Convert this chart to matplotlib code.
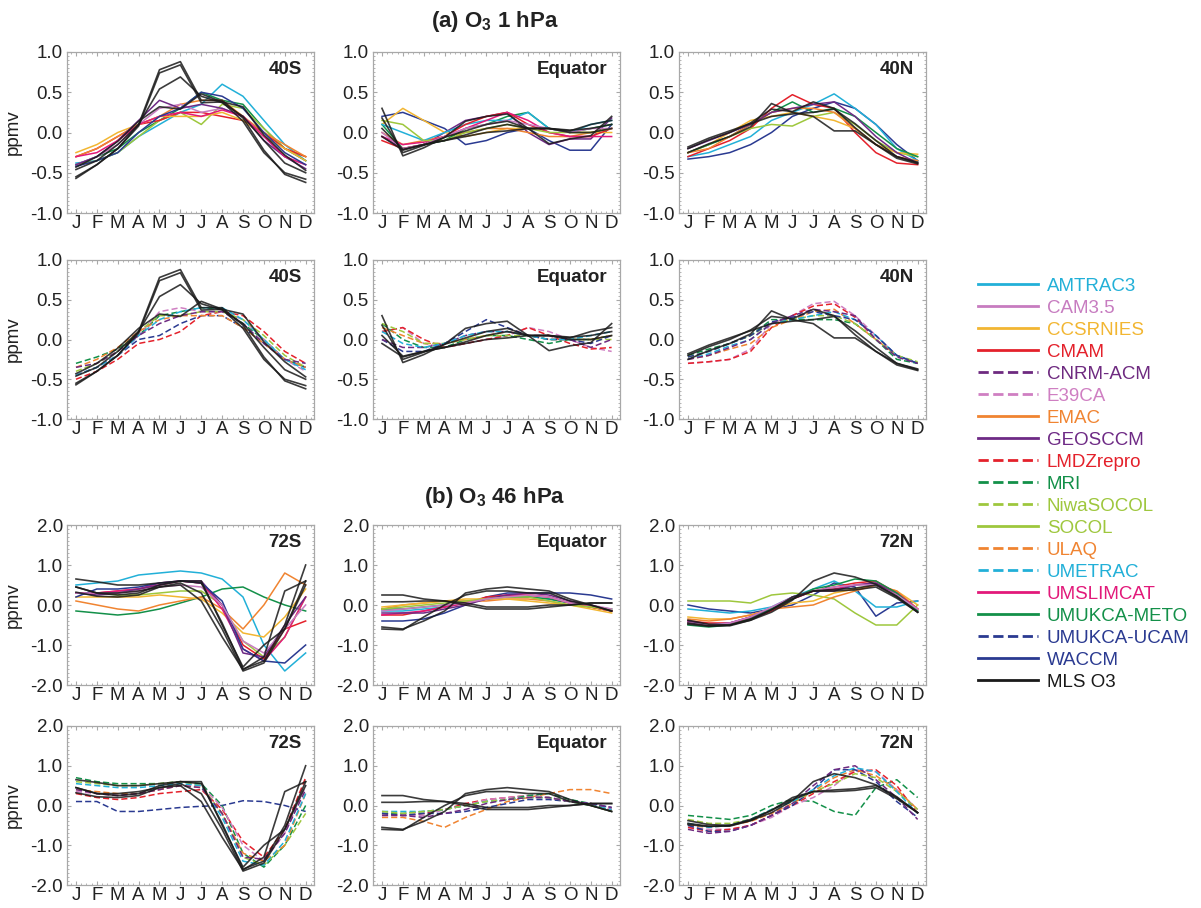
import numpy as np
import matplotlib
matplotlib.use('Agg')
import matplotlib.pyplot as plt
from matplotlib.ticker import MultipleLocator
from matplotlib.lines import Line2D

plt.rcParams['font.family'] = ['Liberation Sans', 'DejaVu Sans']
plt.rcParams['mathtext.fontset'] = 'custom'
plt.rcParams['mathtext.bf'] = 'Liberation Sans:bold'
plt.rcParams['mathtext.rm'] = 'Liberation Sans'

months = ['J', 'F', 'M', 'A', 'M', 'J', 'J', 'A', 'S', 'O', 'N', 'D']

# couleurs / styles des modeles (ordre de la legende)
styles = {
    'AMTRAC3': ('#22b0d8', '-'),
    'CAM3.5': ('#c77cc0', '-'),
    'CCSRNIES': ('#f2b632', '-'),
    'CMAM': ('#e4212b', '-'),
    'CNRM-ACM': ('#6e2a80', '--'),
    'E39CA': ('#cf7fc2', '--'),
    'EMAC': ('#f08431', '-'),
    'GEOSCCM': ('#6e2a85', '-'),
    'LMDZrepro': ('#e4212b', '--'),
    'MRI': ('#139049', '--'),
    'NiwaSOCOL': ('#9ec73d', '--'),
    'SOCOL': ('#9ec73d', '-'),
    'ULAQ': ('#f08431', '--'),
    'UMETRAC': ('#22b0d8', '--'),
    'UMSLIMCAT': ('#e2197a', '-'),
    'UMUKCA-METO': ('#139049', '-'),
    'UMUKCA-UCAM': ('#2a3a91', '--'),
    'WACCM': ('#2a3a91', '-'),
    'MLS O3': ('#1a1a1a', '-'),
}

# ---- MLS (plusieurs annees) ----
mls_1hpa_40s = [
    [-0.57, -0.40, -0.20, 0.10, 0.78, 0.88, 0.40, 0.40, 0.18, -0.22, -0.52, -0.62],
    [-0.55, -0.40, -0.20, 0.08, 0.74, 0.84, 0.37, 0.38, 0.14, -0.25, -0.50, -0.58],
    [-0.46, -0.35, -0.15, 0.10, 0.54, 0.69, 0.45, 0.37, 0.20, -0.10, -0.38, -0.50],
    [-0.43, -0.30, -0.11, 0.14, 0.32, 0.29, 0.48, 0.38, 0.32, -0.03, -0.28, -0.47],
]
mls_1hpa_eq = [
    [0.30, -0.29, -0.19, -0.06, 0.14, 0.20, 0.23, 0.05, -0.14, -0.08, -0.04, 0.20],
    [0.18, -0.25, -0.16, -0.06, 0.02, 0.10, 0.14, 0.05, 0.05, 0.02, 0.10, 0.15],
    [0.05, -0.21, -0.15, -0.10, -0.03, 0.05, 0.10, 0.05, 0.05, 0.03, 0.05, 0.10],
    [-0.05, -0.22, -0.15, -0.10, -0.05, 0.00, 0.02, 0.05, 0.05, 0.00, 0.00, 0.05],
]
mls_1hpa_40n = [
    [-0.25, -0.14, -0.05, 0.07, 0.36, 0.25, 0.20, 0.02, 0.02, -0.15, -0.32, -0.39],
    [-0.20, -0.09, 0.00, 0.12, 0.29, 0.26, 0.38, 0.30, 0.06, -0.15, -0.30, -0.38],
    [-0.18, -0.07, 0.02, 0.11, 0.20, 0.23, 0.25, 0.29, 0.11, -0.10, -0.30, -0.37],
]
mls_46hpa_72s = [
    [0.65, 0.58, 0.50, 0.50, 0.55, 0.60, 0.60, -0.50, -1.55, -1.00, -0.60, 0.60],
    [0.45, 0.30, 0.25, 0.30, 0.50, 0.60, 0.55, -0.45, -1.60, -1.40, -0.50, 1.00],
    [0.32, 0.22, 0.20, 0.25, 0.45, 0.55, 0.30, -0.60, -1.65, -1.45, -0.60, 0.50],
    [0.45, 0.30, 0.30, 0.35, 0.45, 0.50, 0.10, -0.80, -1.62, -1.30, 0.35, 0.60],
]
mls_46hpa_eq = [
    [0.25, 0.25, 0.15, 0.10, 0.00, -0.10, -0.10, -0.10, -0.05, 0.00, 0.05, 0.05],
    [0.08, 0.08, 0.10, 0.10, 0.05, -0.05, -0.05, -0.05, 0.00, 0.00, 0.05, 0.05],
    [-0.55, -0.60, -0.40, -0.15, 0.30, 0.40, 0.45, 0.40, 0.35, 0.15, 0.00, -0.15],
    [-0.60, -0.62, -0.30, 0.00, 0.25, 0.35, 0.35, 0.30, 0.30, 0.10, 0.00, -0.15],
]
mls_46hpa_72n = [
    [-0.38, -0.48, -0.50, -0.38, -0.18, 0.12, 0.60, 0.80, 0.70, 0.52, 0.22, -0.18],
    [-0.45, -0.52, -0.52, -0.38, -0.12, 0.20, 0.35, 0.39, 0.42, 0.50, 0.20, -0.18],
    [-0.48, -0.53, -0.50, -0.35, -0.12, 0.15, 0.35, 0.35, 0.38, 0.45, 0.17, -0.18],
]

# ---- 1 hPa, modeles traits pleins ----
solid_1hpa_40s = {
    'AMTRAC3': [-0.38, -0.35, -0.25, -0.05, 0.10, 0.25, 0.35, 0.60, 0.45, 0.15, -0.15, -0.35],
    'UMUKCA-METO': [-0.40, -0.30, -0.20, 0.00, 0.15, 0.30, 0.50, 0.40, 0.35, 0.05, -0.20, -0.35],
    'SOCOL': [-0.40, -0.35, -0.25, -0.05, 0.15, 0.25, 0.10, 0.35, 0.30, 0.05, -0.20, -0.30],
    'CMAM': [-0.30, -0.20, -0.05, 0.10, 0.15, 0.25, 0.25, 0.20, 0.15, 0.00, -0.20, -0.30],
    'EMAC': [-0.30, -0.20, -0.05, 0.10, 0.20, 0.35, 0.40, 0.40, 0.20, 0.00, -0.15, -0.30],
    'CCSRNIES': [-0.25, -0.15, 0.00, 0.10, 0.20, 0.20, 0.20, 0.25, 0.15, -0.05, -0.20, -0.35],
    'CAM3.5': [-0.40, -0.30, -0.15, 0.10, 0.30, 0.35, 0.25, 0.30, 0.20, -0.05, -0.30, -0.40],
    'GEOSCCM': [-0.40, -0.30, -0.10, 0.15, 0.40, 0.30, 0.35, 0.30, 0.20, -0.10, -0.30, -0.45],
    'UMSLIMCAT': [-0.30, -0.25, -0.10, 0.10, 0.20, 0.25, 0.20, 0.28, 0.20, -0.05, -0.30, -0.40],
    'WACCM': [-0.42, -0.35, -0.25, 0.00, 0.20, 0.30, 0.50, 0.45, 0.30, 0.00, -0.25, -0.40],
}
solid_1hpa_eq = {
    'WACCM': [0.20, 0.25, 0.15, 0.05, -0.15, -0.10, 0.00, 0.05, -0.10, -0.22, -0.22, 0.10],
    'GEOSCCM': [-0.05, -0.20, -0.15, 0.00, 0.15, 0.20, 0.25, 0.00, -0.15, -0.08, -0.08, 0.18],
    'CCSRNIES': [0.10, 0.30, 0.15, 0.00, -0.05, 0.00, 0.05, 0.05, 0.05, 0.00, 0.00, 0.00],
    'EMAC': [0.00, -0.15, -0.10, -0.05, 0.00, 0.05, 0.05, 0.00, -0.05, -0.05, 0.00, 0.05],
    'UMUKCA-METO': [0.10, -0.20, -0.15, -0.10, 0.05, 0.10, 0.20, 0.25, 0.05, 0.00, 0.05, 0.10],
    'AMTRAC3': [0.10, 0.00, -0.10, 0.00, 0.10, 0.15, 0.15, 0.25, 0.05, 0.00, 0.10, 0.15],
    'CMAM': [-0.10, -0.20, -0.15, -0.05, 0.10, 0.20, 0.25, 0.10, 0.00, -0.05, -0.05, 0.05],
    'UMSLIMCAT': [-0.05, -0.15, -0.12, -0.05, 0.05, 0.15, 0.25, 0.15, 0.00, -0.05, -0.05, -0.05],
    'SOCOL': [0.15, 0.10, -0.10, -0.10, 0.00, 0.05, 0.10, 0.05, 0.00, 0.00, 0.00, 0.05],
    'CAM3.5': [0.00, -0.20, -0.15, -0.05, 0.05, 0.10, 0.15, 0.10, 0.05, 0.00, 0.05, 0.05],
}
solid_1hpa_40n = {
    'WACCM': [-0.33, -0.30, -0.25, -0.15, 0.00, 0.20, 0.30, 0.38, 0.30, 0.10, -0.15, -0.35],
    'AMTRAC3': [-0.30, -0.25, -0.15, -0.05, 0.15, 0.25, 0.35, 0.48, 0.30, 0.10, -0.20, -0.35],
    'CMAM': [-0.30, -0.20, -0.10, 0.05, 0.30, 0.47, 0.35, 0.30, 0.00, -0.25, -0.38, -0.40],
    'SOCOL': [-0.25, -0.15, -0.05, 0.05, 0.10, 0.08, 0.20, 0.25, 0.10, -0.10, -0.25, -0.30],
    'CCSRNIES': [-0.25, -0.15, 0.00, 0.15, 0.20, 0.25, 0.20, 0.15, 0.05, -0.15, -0.25, -0.27],
    'UMUKCA-METO': [-0.25, -0.15, -0.05, 0.10, 0.25, 0.38, 0.25, 0.30, 0.20, 0.00, -0.20, -0.30],
    'EMAC': [-0.25, -0.20, -0.05, 0.10, 0.25, 0.30, 0.30, 0.25, 0.05, -0.15, -0.30, -0.35],
    'GEOSCCM': [-0.20, -0.10, 0.00, 0.10, 0.25, 0.30, 0.35, 0.38, 0.20, -0.05, -0.25, -0.38],
}

# ---- 1 hPa, modeles tirets ----
dash_1hpa_40s = {
    'MRI': [-0.30, -0.22, -0.12, 0.05, 0.30, 0.35, 0.40, 0.38, 0.20, 0.00, -0.25, -0.35],
    'LMDZrepro': [-0.50, -0.40, -0.25, -0.05, 0.00, 0.10, 0.30, 0.35, 0.30, 0.10, -0.15, -0.30],
    'UMUKCA-UCAM': [-0.45, -0.35, -0.20, 0.00, 0.05, 0.20, 0.30, 0.30, 0.15, -0.05, -0.25, -0.35],
    'E39CA': [-0.45, -0.35, -0.20, 0.05, 0.35, 0.40, 0.35, 0.35, 0.25, 0.00, -0.25, -0.40],
    'NiwaSOCOL': [-0.40, -0.30, -0.15, 0.10, 0.30, 0.30, 0.35, 0.35, 0.25, 0.05, -0.20, -0.35],
    'ULAQ': [-0.35, -0.25, -0.10, 0.10, 0.25, 0.30, 0.30, 0.30, 0.15, -0.05, -0.25, -0.35],
    'UMETRAC': [-0.45, -0.35, -0.20, 0.05, 0.25, 0.35, 0.40, 0.40, 0.25, 0.00, -0.25, -0.38],
    'CNRM-ACM': [-0.35, -0.30, -0.15, 0.05, 0.20, 0.30, 0.35, 0.35, 0.20, -0.05, -0.25, -0.30],
}
dash_1hpa_eq = {
    'E39CA': [0.10, 0.15, -0.05, -0.10, -0.05, 0.00, 0.05, 0.15, 0.10, 0.00, -0.10, -0.15],
    'LMDZrepro': [0.10, 0.15, 0.00, -0.10, -0.05, 0.00, 0.05, 0.15, 0.05, -0.05, -0.12, -0.10],
    'MRI': [0.20, 0.00, -0.10, -0.10, 0.00, 0.05, 0.05, 0.00, -0.05, 0.00, 0.00, 0.05],
    'ULAQ': [0.15, 0.05, -0.05, -0.05, 0.00, 0.05, 0.10, 0.05, 0.00, 0.00, 0.00, 0.05],
    'NiwaSOCOL': [0.20, 0.10, -0.05, -0.05, 0.00, 0.05, 0.05, 0.05, 0.00, 0.00, 0.00, 0.00],
    'UMUKCA-UCAM': [0.00, -0.15, -0.15, -0.05, 0.10, 0.25, 0.15, 0.05, 0.00, 0.00, -0.05, 0.05],
    'CNRM-ACM': [0.00, -0.10, -0.10, -0.05, 0.05, 0.10, 0.10, 0.05, 0.05, 0.00, -0.10, 0.00],
    'UMETRAC': [0.10, -0.05, -0.10, -0.05, 0.05, 0.10, 0.10, 0.05, 0.00, 0.00, 0.05, 0.10],
}
dash_1hpa_40n = {
    'E39CA': [-0.30, -0.28, -0.25, -0.12, 0.20, 0.30, 0.45, 0.48, 0.30, 0.05, -0.20, -0.30],
    'LMDZrepro': [-0.30, -0.28, -0.25, -0.15, 0.15, 0.30, 0.42, 0.45, 0.28, 0.00, -0.20, -0.30],
    'ULAQ': [-0.25, -0.20, -0.12, -0.05, 0.15, 0.25, 0.35, 0.38, 0.20, 0.00, -0.20, -0.30],
    'MRI': [-0.20, -0.12, -0.05, 0.05, 0.25, 0.25, 0.25, 0.25, 0.20, 0.00, -0.25, -0.30],
    'NiwaSOCOL': [-0.22, -0.15, -0.05, 0.05, 0.20, 0.25, 0.30, 0.30, 0.20, 0.00, -0.20, -0.28],
    'UMETRAC': [-0.25, -0.18, -0.08, 0.00, 0.20, 0.25, 0.30, 0.35, 0.25, 0.05, -0.20, -0.30],
    'UMUKCA-UCAM': [-0.22, -0.15, -0.05, 0.05, 0.22, 0.28, 0.35, 0.30, 0.25, 0.05, -0.20, -0.30],
    'CNRM-ACM': [-0.25, -0.20, -0.10, 0.00, 0.20, 0.30, 0.38, 0.35, 0.30, 0.00, -0.22, -0.30],
}

# ---- 46 hPa, modeles traits pleins ----
solid_46hpa_72s = {
    'AMTRAC3': [0.50, 0.55, 0.60, 0.75, 0.80, 0.85, 0.80, 0.65, 0.20, -1.00, -1.65, -1.20],
    'UMUKCA-METO': [-0.15, -0.20, -0.25, -0.20, -0.10, 0.05, 0.20, 0.40, 0.45, 0.20, 0.00, -0.15],
    'EMAC': [0.10, 0.00, -0.10, -0.15, 0.00, 0.10, 0.20, -0.10, -0.60, 0.00, 0.80, 0.50],
    'CCSRNIES': [0.20, 0.20, 0.20, 0.20, 0.25, 0.20, 0.15, -0.20, -0.70, -0.80, -0.30, 0.40],
    'SOCOL': [0.30, 0.30, 0.25, 0.25, 0.30, 0.35, 0.35, 0.00, -0.90, -1.30, -0.80, 0.20],
    'CMAM': [0.30, 0.30, 0.35, 0.40, 0.50, 0.60, 0.55, 0.00, -1.00, -1.35, -0.60, -0.40],
    'UMSLIMCAT': [0.30, 0.30, 0.35, 0.40, 0.55, 0.60, 0.55, -0.10, -1.10, -1.40, -0.80, 0.20],
    'GEOSCCM': [0.30, 0.25, 0.30, 0.40, 0.50, 0.60, 0.60, 0.00, -1.20, -1.30, -0.50, 0.20],
    'WACCM': [0.20, 0.40, 0.40, 0.45, 0.55, 0.60, 0.55, 0.10, -1.10, -1.40, -1.45, -1.00],
    'CAM3.5': [0.30, 0.30, 0.30, 0.35, 0.45, 0.50, 0.45, 0.00, -0.90, -1.20, -0.60, 0.00],
}
solid_46hpa_eq = {
    'WACCM': [-0.40, -0.40, -0.35, -0.20, 0.00, 0.20, 0.30, 0.30, 0.30, 0.30, 0.25, 0.15],
    'AMTRAC3': [-0.15, -0.15, -0.10, -0.05, 0.05, 0.15, 0.20, 0.20, 0.15, 0.05, -0.05, -0.10],
    'UMUKCA-METO': [-0.10, -0.10, -0.05, 0.00, 0.05, 0.15, 0.20, 0.20, 0.15, 0.05, -0.05, -0.15],
    'CMAM': [-0.25, -0.25, -0.15, -0.05, 0.05, 0.20, 0.25, 0.25, 0.20, 0.05, -0.05, -0.15],
    'UMSLIMCAT': [-0.25, -0.20, -0.15, -0.05, 0.05, 0.15, 0.25, 0.25, 0.20, 0.05, -0.05, -0.15],
    'EMAC': [-0.10, 0.00, 0.05, 0.10, 0.10, 0.10, 0.15, 0.15, 0.10, 0.00, -0.05, -0.15],
    'CCSRNIES': [-0.05, 0.00, 0.05, 0.10, 0.15, 0.15, 0.15, 0.10, 0.05, 0.00, -0.10, -0.20],
    'GEOSCCM': [-0.20, -0.20, -0.20, -0.10, 0.00, 0.15, 0.25, 0.30, 0.25, 0.10, 0.00, -0.15],
    'SOCOL': [-0.10, -0.05, 0.00, 0.05, 0.10, 0.15, 0.20, 0.20, 0.10, 0.00, -0.05, -0.10],
    'CAM3.5': [-0.15, -0.10, -0.05, 0.00, 0.05, 0.15, 0.20, 0.25, 0.20, 0.05, 0.00, -0.10],
}
solid_46hpa_72n = {
    'WACCM': [0.00, -0.10, -0.15, -0.20, -0.10, 0.00, 0.25, 0.55, 0.45, -0.28, 0.05, 0.10],
    'AMTRAC3': [-0.10, -0.15, -0.20, -0.15, -0.05, 0.20, 0.40, 0.60, 0.35, -0.05, -0.05, 0.10],
    'SOCOL': [0.10, 0.10, 0.10, 0.05, 0.25, 0.30, 0.25, 0.15, -0.20, -0.50, -0.50, 0.00],
    'CCSRNIES': [-0.30, -0.35, -0.35, -0.25, -0.10, 0.05, 0.10, 0.30, 0.40, 0.50, 0.35, 0.00],
    'EMAC': [-0.35, -0.40, -0.35, -0.25, -0.10, -0.05, 0.00, 0.20, 0.35, 0.50, 0.35, -0.10],
    'CMAM': [-0.40, -0.45, -0.45, -0.35, -0.15, 0.15, 0.35, 0.45, 0.55, 0.60, 0.30, -0.10],
    'UMSLIMCAT': [-0.45, -0.50, -0.45, -0.30, -0.10, 0.15, 0.35, 0.40, 0.50, 0.55, 0.30, -0.10],
    'GEOSCCM': [-0.40, -0.50, -0.45, -0.30, -0.10, 0.20, 0.35, 0.35, 0.50, 0.55, 0.25, -0.15],
    'UMUKCA-METO': [-0.50, -0.55, -0.50, -0.35, -0.10, 0.15, 0.40, 0.50, 0.65, 0.60, 0.30, -0.15],
    'CAM3.5': [-0.45, -0.50, -0.45, -0.30, -0.05, 0.20, 0.35, 0.45, 0.50, 0.50, 0.25, -0.10],
}

# ---- 46 hPa, modeles tirets ----
dash_46hpa_72s = {
    'UMUKCA-UCAM': [0.10, 0.10, -0.15, -0.15, -0.10, -0.05, -0.02, 0.00, 0.12, 0.10, 0.00, -0.15],
    'MRI': [0.70, 0.60, 0.55, 0.55, 0.55, 0.60, 0.55, 0.00, -1.20, -1.55, -1.00, 0.00],
    'LMDZrepro': [0.30, 0.20, 0.15, 0.20, 0.30, 0.35, 0.40, -0.10, -0.90, -1.30, -0.60, 0.70],
    'E39CA': [0.35, 0.30, 0.25, 0.30, 0.40, 0.50, 0.50, -0.05, -1.00, -1.40, -0.70, 0.50],
    'NiwaSOCOL': [0.60, 0.55, 0.50, 0.50, 0.55, 0.60, 0.50, -0.20, -1.30, -1.50, -1.00, -0.20],
    'ULAQ': [0.40, 0.35, 0.30, 0.30, 0.40, 0.50, 0.45, -0.20, -1.20, -1.40, -1.00, 0.30],
    'UMETRAC': [0.55, 0.50, 0.45, 0.45, 0.50, 0.55, 0.50, -0.30, -1.40, -1.50, -0.90, 0.30],
    'CNRM-ACM': [0.40, 0.30, 0.25, 0.30, 0.40, 0.50, 0.45, -0.20, -1.30, -1.35, -0.70, 0.40],
}
dash_46hpa_eq = {
    'ULAQ': [-0.30, -0.30, -0.40, -0.55, -0.30, -0.10, 0.10, 0.20, 0.30, 0.40, 0.40, 0.30],
    'LMDZrepro': [-0.20, -0.25, -0.20, -0.10, 0.05, 0.15, 0.20, 0.25, 0.20, 0.10, 0.05, -0.10],
    'E39CA': [-0.25, -0.25, -0.25, -0.10, 0.00, 0.15, 0.20, 0.25, 0.20, 0.10, 0.05, -0.10],
    'MRI': [-0.20, -0.20, -0.15, -0.10, 0.00, 0.10, 0.15, 0.25, 0.30, 0.15, 0.05, -0.15],
    'UMETRAC': [-0.15, -0.15, -0.15, -0.10, 0.00, 0.10, 0.15, 0.20, 0.20, 0.10, 0.00, -0.10],
    'UMUKCA-UCAM': [-0.20, -0.25, -0.20, -0.20, -0.15, -0.05, 0.05, 0.15, 0.15, 0.10, 0.05, -0.05],
    'NiwaSOCOL': [-0.15, -0.20, -0.15, -0.10, 0.00, 0.10, 0.15, 0.20, 0.20, 0.10, 0.00, -0.15],
    'CNRM-ACM': [-0.25, -0.25, -0.30, -0.20, -0.10, 0.05, 0.15, 0.20, 0.20, 0.10, 0.05, -0.05],
}
dash_46hpa_72n = {
    'MRI': [-0.25, -0.30, -0.35, -0.25, 0.00, 0.15, 0.10, -0.15, -0.25, 0.45, 0.65, 0.20],
    'E39CA': [-0.55, -0.60, -0.60, -0.50, -0.30, 0.00, 0.20, 0.50, 0.90, 0.85, 0.40, -0.10],
    'LMDZrepro': [-0.55, -0.65, -0.60, -0.50, -0.25, 0.00, 0.30, 0.60, 0.85, 0.90, 0.50, -0.20],
    'ULAQ': [-0.50, -0.55, -0.50, -0.40, -0.20, 0.05, 0.35, 0.70, 0.90, 0.75, 0.40, -0.10],
    'UMUKCA-UCAM': [-0.50, -0.65, -0.65, -0.50, -0.25, 0.00, 0.40, 0.90, 0.90, 0.60, 0.10, -0.30],
    'CNRM-ACM': [-0.60, -0.70, -0.65, -0.50, -0.25, 0.05, 0.50, 0.90, 1.00, 0.65, 0.20, -0.35],
    'NiwaSOCOL': [-0.35, -0.45, -0.45, -0.35, -0.10, 0.10, 0.35, 0.55, 0.80, 0.70, 0.35, -0.10],
    'UMETRAC': [-0.45, -0.55, -0.50, -0.35, -0.10, 0.10, 0.40, 0.75, 0.95, 0.85, 0.35, -0.20],
}

rows = [
    [(solid_1hpa_40s, mls_1hpa_40s, '40S'), (solid_1hpa_eq, mls_1hpa_eq, 'Equator'), (solid_1hpa_40n, mls_1hpa_40n, '40N')],
    [(dash_1hpa_40s, mls_1hpa_40s, '40S'), (dash_1hpa_eq, mls_1hpa_eq, 'Equator'), (dash_1hpa_40n, mls_1hpa_40n, '40N')],
    [(solid_46hpa_72s, mls_46hpa_72s, '72S'), (solid_46hpa_eq, mls_46hpa_eq, 'Equator'), (solid_46hpa_72n, mls_46hpa_72n, '72N')],
    [(dash_46hpa_72s, mls_46hpa_72s, '72S'), (dash_46hpa_eq, mls_46hpa_eq, 'Equator'), (dash_46hpa_72n, mls_46hpa_72n, '72N')],
]

W, H = 1201, 908
fig = plt.figure(figsize=(W / 100, H / 100), dpi=100)

col_left = [67, 373, 679]
col_w = 247
row_box = [(52, 213), (260, 419), (525, 685), (726, 885)]
x = np.arange(12)
frame_col = '#a8a8a8'

for r, row in enumerate(rows):
    top, bot = row_box[r]
    for c, (models, mls, lab) in enumerate(row):
        ax = fig.add_axes([col_left[c] / W, 1 - bot / H, col_w / W, (bot - top) / H])
        for name, vals in models.items():
            col, ls = styles[name]
            ax.plot(x, vals, color=col, ls=ls, lw=1.1, dashes=(4, 2) if ls == '--' else (None, None))
        for vals in mls:
            ax.plot(x, vals, color=styles['MLS O3'][0], lw=1.2, alpha=0.85)
        ax.set_xlim(-0.43, 11.4)
        if r < 2:
            ax.set_ylim(-1.0, 1.0)
            ax.set_yticks([-1.0, -0.5, 0.0, 0.5, 1.0])
            ax.yaxis.set_minor_locator(MultipleLocator(0.05))
        else:
            ax.set_ylim(-2.0, 2.0)
            ax.set_yticks([-2.0, -1.0, 0.0, 1.0, 2.0])
            ax.yaxis.set_minor_locator(MultipleLocator(0.1))
        ax.yaxis.set_major_formatter(plt.FormatStrFormatter('%.1f'))
        ax.set_xticks(x)
        ax.set_xticklabels(months)
        ax.xaxis.set_minor_locator(MultipleLocator(0.25))
        ax.tick_params(which='both', direction='in', colors=frame_col, top=True, right=True,
                       labelcolor='#222222', labelsize=13.5)
        ax.tick_params(which='major', length=3, width=0.8, pad=3)
        ax.tick_params(axis='x', which='major', pad=1.5)
        ax.tick_params(which='minor', length=1.5, width=0.6)
        for s in ax.spines.values():
            s.set_color(frame_col)
            s.set_linewidth(0.9)
        ax.text(0.95, 0.89, lab, transform=ax.transAxes, ha='right', va='center',
                fontsize=13.5, fontweight='bold', color='#222222')
        if c == 0:
            ax.set_ylabel('ppmv', fontsize=13.5, color='#222222', labelpad=6)

fig.text(495 / W, 1 - 22 / H, r'(a) O$_\mathbf{3}$ 1 hPa', ha='center', va='center',
         fontsize=16, fontweight='bold', color='#222222')
fig.text(495 / W, 1 - 497 / H, r'(b) O$_\mathbf{3}$ 46 hPa', ha='center', va='center',
         fontsize=16, fontweight='bold', color='#222222')

handles = [Line2D([0], [0], color=col, ls=ls, lw=2) for col, ls in styles.values()]
fig.legend(handles, list(styles.keys()), loc='upper left', bbox_to_anchor=(970 / W, 1 - 270 / H),
           frameon=False, fontsize=13.5, handlelength=3.2, handletextpad=0.5,
           labelspacing=0.26, labelcolor='linecolor', borderaxespad=0)

fig.savefig('out.png', dpi=100)
